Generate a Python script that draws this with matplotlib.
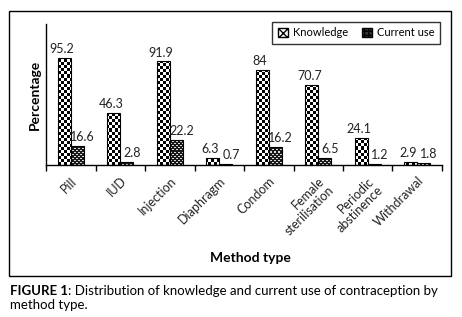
import numpy as np
import matplotlib
matplotlib.use("Agg")
import matplotlib.pyplot as plt
from matplotlib.patches import Rectangle, Patch

categories = ["Pill", "IUD", "Injection", "Diaphragm", "Condom",
              "Female\nsterilisation", "Periodic\nabstinence", "Withdrawal"]
knowledge = [95.2, 46.3, 91.9, 6.3, 84, 70.7, 24.1, 2.9]
current_use = [16.6, 2.8, 22.2, 0.7, 16.2, 6.5, 1.2, 1.8]
knowledge_labels = ["95.2", "46.3", "91.9", "6.3", "84", "70.7", "24.1", "2.9"]
current_labels = ["16.6", "2.8", "22.2", "0.7", "16.2", "6.5", "1.2", "1.8"]

plt.rcParams['font.family'] = ['Lato', 'DejaVu Sans']

W, H = 462, 317
fig = plt.figure(figsize=(W / 100, H / 100), dpi=100)
ax = fig.add_axes([46 / W, 1 - 165 / H, 396 / W, 141 / H])

n = len(categories)
x = np.arange(n)
bw = 0.26
ymax = 125
ax.set_xlim(-0.5, n - 0.5)
ax.set_ylim(0, ymax)

bars_k = ax.bar(x - bw / 2, knowledge, bw, facecolor='none', edgecolor='black', linewidth=0.8, zorder=3)
bars_c = ax.bar(x + bw / 2, current_use, bw, facecolor='none', edgecolor='black', linewidth=0.8, zorder=3)

cols_px, rows_px = 396, 141
rr = np.arange(rows_px)[:, None]
cc = np.arange(cols_px)[None, :]
big = (((rr // 3) + (cc // 3)) % 2).astype(float)
fine = ((((rr // 2) + (cc // 2)) % 2 == 0) & (rr % 2 == 0)).astype(float) * 0.75 + 0.1

for b in bars_k:
    im = ax.imshow(big, cmap='gray', vmin=0, vmax=1, extent=[-0.5, n - 0.5, 0, ymax],
                   aspect='auto', interpolation='nearest', zorder=2, origin='lower')
    im.set_clip_path(b)
for b in bars_c:
    im = ax.imshow(fine, cmap='gray', vmin=0, vmax=1, extent=[-0.5, n - 0.5, 0, ymax],
                   aspect='auto', interpolation='nearest', zorder=2, origin='lower')
    im.set_clip_path(b)
ax.set_xlim(-0.5, n - 0.5)
ax.set_ylim(0, ymax)

for i in range(n):
    ax.text(x[i] - bw / 2 - 0.05, knowledge[i] + 2.5, knowledge_labels[i], ha='center', va='bottom',
            fontsize=9, color='#222222')
    ax.text(x[i] + bw / 2 + 0.11, current_use[i] + 2.5, current_labels[i], ha='center', va='bottom',
            fontsize=9, color='#222222')

for s in ['top', 'right']:
    ax.spines[s].set_visible(False)
ax.spines['left'].set_linewidth(1)
ax.spines['bottom'].set_linewidth(1)
ax.set_yticks([])
ax.set_xticks(x)
ax.set_xticklabels(categories, rotation=45, ha='right', va='top', rotation_mode='anchor',
                   fontsize=9, color='#222222', linespacing=1.1)
ax.tick_params(axis='x', which='major', length=0, pad=7)
ax.set_xticks(np.arange(-0.5, n, 1), minor=True)
ax.tick_params(axis='x', which='minor', length=4, direction='out', width=1)

ax.set_ylabel("Percentage", fontsize=10, fontweight='bold', labelpad=4)
fig.text(250 / W, 1 - 258 / H, "Method type", ha='center', va='center', fontsize=10, fontweight='bold')

handles = [Patch(facecolor='white', edgecolor='black', hatch='xxxx', label='Knowledge'),
           Patch(facecolor='#333333', edgecolor='black', hatch='++++', label='Current use')]
leg = fig.legend(handles=handles, loc='upper right', bbox_to_anchor=(446 / W, 1 - 16 / H),
                 ncol=2, frameon=True, fancybox=False, fontsize=8, handlelength=0.9,
                 handleheight=0.9, handletextpad=0.5, columnspacing=1.2, borderpad=0.5)
leg.get_frame().set_edgecolor('black')
leg.get_frame().set_linewidth(1)

fig.add_artist(Rectangle((9 / W, 1 - 276 / H), 442 / W, 265 / H, transform=fig.transFigure,
                         fill=False, edgecolor='black', linewidth=1))

t1 = fig.text(10 / W, 1 - 291 / H, "FIGURE 1", fontsize=9.5, fontweight='bold', va='center', ha='left')
fig.canvas.draw()
bb = t1.get_window_extent()
fig.text(bb.x1 / W, 1 - 291 / H, ": Distribution of knowledge and current use of contraception by",
         fontsize=9.5, va='center', ha='left')
fig.text(10 / W, 1 - 305 / H, "method type.", fontsize=9.5, va='center', ha='left')

fig.savefig("out.png", dpi=100)
